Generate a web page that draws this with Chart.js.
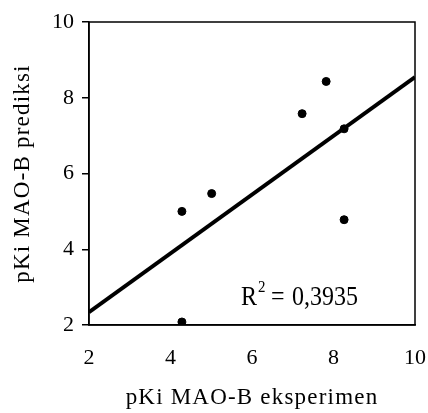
<!DOCTYPE html>
<html>
<head>
<meta charset="utf-8">
<script src="https://cdn.jsdelivr.net/npm/chart.js@4"></script>
<style>
  html, body { margin: 0; padding: 0; background: #fff; }
  #wrap { width: 428px; height: 413px; }
</style>
</head>
<body>
<div id="wrap"><canvas id="myChart" width="428" height="413"></canvas></div>
<script>
// pKi values: experiment (x) vs predicted (y)
const pkiExp  = [4.28, 4.28, 5.01, 7.23, 7.82, 8.26, 8.26];
const pkiPred = [5.00, 2.08, 5.47, 7.58, 8.43, 4.78, 7.18];
const axisTicks = [2, 4, 6, 8, 10];
const xTitle = 'pKi MAO-B eksperimen';
const yTitle = 'pKi MAO-B prediksi';
const r2Label = '0,3935';

// least squares fit for the trend line
const n = pkiExp.length;
const mx = pkiExp.reduce((a, b) => a + b, 0) / n;
const my = pkiPred.reduce((a, b) => a + b, 0) / n;
let sxy = 0, sxx = 0;
pkiExp.forEach((x, i) => { sxy += (x - mx) * (pkiPred[i] - my); sxx += (x - mx) * (x - mx); });
const slope = sxy / sxx;
const icpt = my - slope * mx;
const fitLine = [2, 10].map(x => ({ x: x, y: icpt + slope * x }));

const font = 'Liberation Serif, Times New Roman, serif';

// box around the plot, axis titles (spaced out) and the R^2 text
const boxPlugin = {
  id: 'box',
  afterDraw(chart) {
    const c = chart.ctx, a = chart.chartArea;
    c.save();
    c.strokeStyle = '#000';
    c.lineWidth = 1.5;
    c.strokeRect(a.left, a.top, a.right - a.left, a.bottom - a.top);

    c.fillStyle = '#000';
    c.font = '23px ' + font;
    c.letterSpacing = '1.2px';
    c.textAlign = 'center';
    c.textBaseline = 'alphabetic';
    c.fillText(xTitle, (a.left + a.right) / 2, a.bottom + 79);
    c.save();
    c.translate(a.left - 60, (a.top + a.bottom) / 2);
    c.rotate(-Math.PI / 2);
    c.fillText(yTitle, 0, 0);
    c.restore();

    // R^2 = ...
    c.letterSpacing = '0px';
    c.textAlign = 'left';
    const px = chart.scales.x.getPixelForValue(5.73);
    const py = chart.scales.y.getPixelForValue(2.52);
    c.save();
    c.translate(px, py);
    c.scale(1, 1.12);
    c.font = '24px ' + font;
    c.fillText('R', 0, 0);
    c.font = '15px ' + font;
    c.fillText('2', 17, -12);
    c.font = '24px ' + font;
    c.fillText('=', 30, 0);
    c.fillText(r2Label, 51, 0);
    c.restore();
    c.restore();
  }
};

const ctx = document.getElementById('myChart').getContext('2d');
const chart = new Chart(ctx, {
  type: 'scatter',
  data: {
    datasets: [
      {
        label: 'data',
        data: pkiExp.map((x, i) => ({ x: x, y: pkiPred[i] })),
        backgroundColor: '#000',
        borderColor: '#000',
        pointRadius: 4,
        pointHoverRadius: 4
      },
      {
        label: 'fit',
        type: 'line',
        data: fitLine,
        borderColor: '#000',
        borderWidth: 4,
        pointRadius: 0,
        fill: false
      }
    ]
  },
  options: {
    responsive: false,
    animation: false,
    layout: { padding: { top: 22, right: 13, left: 0, bottom: 0 } },
    plugins: { legend: { display: false }, tooltip: { enabled: false } },
    scales: {
      x: {
        type: 'linear',
        min: 2, max: 10,
        afterBuildTicks: s => { s.ticks = axisTicks.map(v => ({ value: v })); },
        afterFit: s => { s.height = 88; s.paddingLeft = 0; s.paddingRight = 0; },
        grid: { display: false },
        border: { color: '#000', width: 1.5 },
        ticks: { color: '#000', padding: 12, font: { family: font, size: 22 } }
      },
      y: {
        type: 'linear',
        min: 2, max: 10,
        afterBuildTicks: s => { s.ticks = axisTicks.map(v => ({ value: v })); },
        afterFit: s => { s.width = 89; s.paddingTop = 0; s.paddingBottom = 0; },
        grid: { drawOnChartArea: false, tickLength: 7, color: '#000', lineWidth: 1.5 },
        border: { color: '#000', width: 1.5 },
        ticks: { color: '#000', padding: 8, font: { family: font, size: 22 } }
      }
    }
  },
  plugins: [boxPlugin]
});
</script>
</body>
</html>
